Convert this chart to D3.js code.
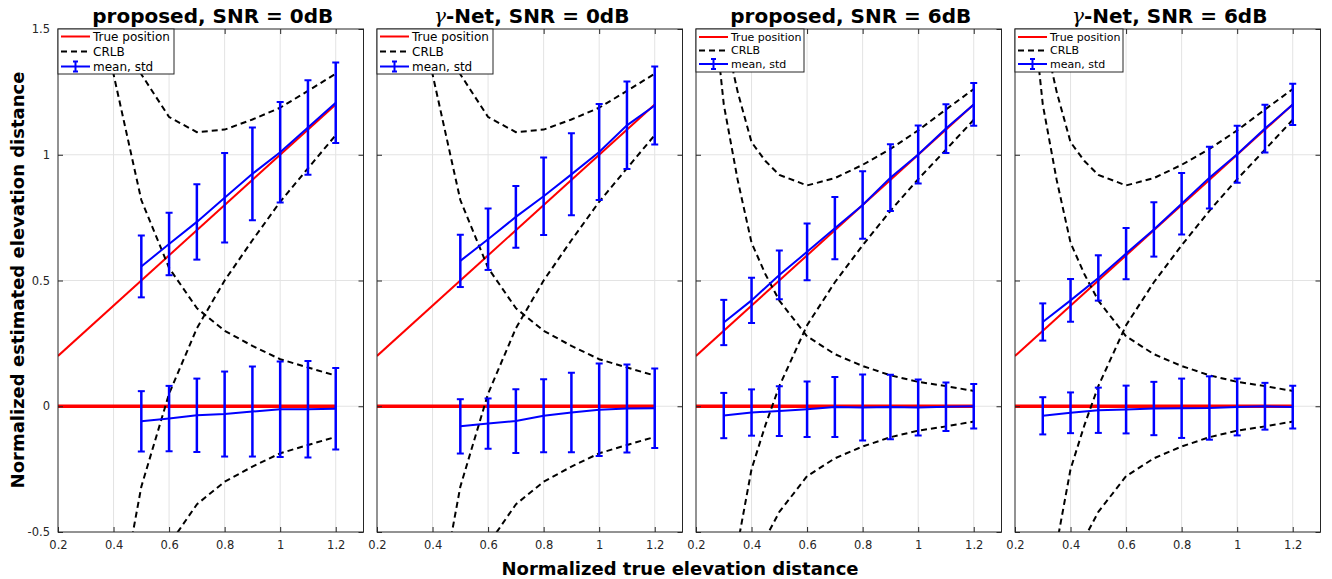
<!DOCTYPE html>
<html>
<head>
<meta charset="utf-8">
<script src="https://cdn.jsdelivr.net/npm/d3@7"></script>
<style>
  body { margin: 0; background: #fff; }
  svg { font-family: "DejaVu Sans", sans-serif; }
</style>
</head>
<body>
<svg id="chart" width="1332" height="579"></svg>
<script>
// --- données ---
const panelTitles = ["proposed, SNR = 0dB", "γ-Net, SNR = 0dB", "proposed, SNR = 6dB", "γ-Net, SNR = 6dB"];
const xTicks = [0.2, 0.4, 0.6, 0.8, 1, 1.2];
const yTicks = [-0.5, 0, 0.5, 1, 1.5];
const truePosX = [0.2, 1.2];

const pts0dB = [0.5, 0.6, 0.7, 0.8, 0.9, 1.0, 1.1, 1.2];
const pts6dB = [0.3, 0.4, 0.5, 0.6, 0.7, 0.8, 0.9, 1.0, 1.1, 1.2];

// CRLB (écart-type) en fonction de la distance vraie
const crlbX0dB = [0.3, 0.4, 0.5, 0.6, 0.7, 0.8, 0.9, 1.0, 1.1, 1.2];
const crlb0dB  = [2.2, 1.32, 0.82, 0.55, 0.39, 0.30, 0.24, 0.187, 0.154, 0.122];
const crlbX6dB = [0.2, 0.3, 0.35, 0.4, 0.45, 0.5, 0.6, 0.7, 0.8, 0.9, 1.0, 1.1, 1.2];
const crlb6dB  = [2.25, 1.2, 0.9, 0.65, 0.525, 0.42, 0.278, 0.207, 0.16, 0.123, 0.097, 0.08, 0.061];

// proposed 0dB
const prop0TopMean = [0.556, 0.645, 0.733, 0.829, 0.924, 1.01, 1.108, 1.207];
const prop0TopStd  = [0.123, 0.124, 0.15, 0.178, 0.184, 0.2, 0.188, 0.16];
const prop0BotMean = [-0.06, -0.049, -0.036, -0.031, -0.021, -0.012, -0.012, -0.01];
const prop0BotStd  = [0.12, 0.13, 0.146, 0.169, 0.179, 0.19, 0.192, 0.162];
// gamma-Net 0dB
const gnet0TopMean = [0.578, 0.664, 0.753, 0.835, 0.922, 1.011, 1.117, 1.196];
const gnet0TopStd  = [0.104, 0.122, 0.123, 0.154, 0.163, 0.191, 0.174, 0.155];
const gnet0BotMean = [-0.08, -0.069, -0.059, -0.038, -0.025, -0.014, -0.009, -0.008];
const gnet0BotStd  = [0.108, 0.1, 0.127, 0.145, 0.158, 0.184, 0.175, 0.158];
// proposed 6dB
const prop6TopMean = [0.333, 0.421, 0.522, 0.614, 0.708, 0.8, 0.909, 1.001, 1.104, 1.2];
const prop6TopStd  = [0.09, 0.09, 0.097, 0.113, 0.124, 0.134, 0.133, 0.115, 0.097, 0.085];
const prop6BotMean = [-0.037, -0.025, -0.019, -0.012, -0.003, -0.005, -0.003, -0.005, -0.002, 0.0];
const prop6BotStd  = [0.09, 0.092, 0.099, 0.11, 0.119, 0.131, 0.128, 0.111, 0.096, 0.088];
// gamma-Net 6dB
const gnet6TopMean = [0.335, 0.421, 0.51, 0.607, 0.703, 0.805, 0.909, 1.002, 1.104, 1.2];
const gnet6TopStd  = [0.074, 0.085, 0.09, 0.102, 0.108, 0.122, 0.123, 0.113, 0.095, 0.082];
const gnet6BotMean = [-0.038, -0.026, -0.016, -0.013, -0.009, -0.008, -0.007, -0.003, 0.0, -0.003];
const gnet6BotStd  = [0.074, 0.081, 0.09, 0.095, 0.106, 0.118, 0.126, 0.113, 0.093, 0.085];

const panels = [
  { x: pts0dB, cx: crlbX0dB, crlb: crlb0dB, top: [prop0TopMean, prop0TopStd], bot: [prop0BotMean, prop0BotStd], legFont: 12, legW: 116, legH: 45 },
  { x: pts0dB, cx: crlbX0dB, crlb: crlb0dB, top: [gnet0TopMean, gnet0TopStd], bot: [gnet0BotMean, gnet0BotStd], legFont: 12, legW: 116, legH: 45 },
  { x: pts6dB, cx: crlbX6dB, crlb: crlb6dB, top: [prop6TopMean, prop6TopStd], bot: [prop6BotMean, prop6BotStd], legFont: 11, legW: 108, legH: 43 },
  { x: pts6dB, cx: crlbX6dB, crlb: crlb6dB, top: [gnet6TopMean, gnet6TopStd], bot: [gnet6BotMean, gnet6BotStd], legFont: 11, legW: 108, legH: 43 }
];

// --- mise en page ---
const svg = d3.select('#chart');
const axLeft = [58, 377, 696, 1015];
const axW = 305.5;
const axTop = 29, axBottom = 532;
const axisColor = '#262626';
const gridColor = '#e3e3e3';

const fmt = d => (Math.round(d * 10) / 10).toString();

panels.forEach((p, i) => {
  const L = axLeft[i];
  const x = d3.scaleLinear().domain([0.2, 1.3]).range([L, L + axW]);
  const y = d3.scaleLinear().domain([-0.5, 1.5]).range([axBottom, axTop]);
  const g = svg.append('g');

  g.append('clipPath').attr('id', 'clip' + i)
    .append('rect').attr('x', L).attr('y', axTop).attr('width', axW).attr('height', axBottom - axTop);

  // fond
  g.append('rect').attr('x', L).attr('y', axTop).attr('width', axW).attr('height', axBottom - axTop)
    .attr('fill', '#fff');

  // grille
  g.selectAll('.gx').data(xTicks.filter(t => t > 0.2)).enter().append('line')
    .attr('x1', d => x(d)).attr('x2', d => x(d)).attr('y1', axTop).attr('y2', axBottom)
    .attr('stroke', gridColor).attr('stroke-width', 1);
  g.selectAll('.gy').data(yTicks.filter(t => t > -0.5 && t < 1.5)).enter().append('line')
    .attr('y1', d => y(d)).attr('y2', d => y(d)).attr('x1', L).attr('x2', L + axW)
    .attr('stroke', gridColor).attr('stroke-width', 1);

  const plot = g.append('g').attr('clip-path', `url(#clip${i})`);

  // position vraie
  plot.append('line')
    .attr('x1', x(truePosX[0])).attr('y1', y(truePosX[0]))
    .attr('x2', x(truePosX[1])).attr('y2', y(truePosX[1]))
    .attr('stroke', '#ff0000').attr('stroke-width', 2);
  plot.append('line')
    .attr('x1', x(truePosX[0])).attr('y1', y(0))
    .attr('x2', x(truePosX[1])).attr('y2', y(0))
    .attr('stroke', '#ff0000').attr('stroke-width', 3.5);

  // CRLB
  const line = d3.line().x(d => x(d[0])).y(d => y(d[1]));
  const crlbCurves = [
    p.cx.map((xv, k) => [xv, xv + p.crlb[k]]),
    p.cx.map((xv, k) => [xv, xv - p.crlb[k]]),
    p.cx.map((xv, k) => [xv, p.crlb[k]]),
    p.cx.map((xv, k) => [xv, -p.crlb[k]])
  ];
  crlbCurves.forEach(c => {
    plot.append('path').attr('d', line(c)).attr('fill', 'none')
      .attr('stroke', '#000').attr('stroke-width', 2).attr('stroke-dasharray', '6,4');
  });

  // moyenne et écart-type
  [p.top, p.bot].forEach(([mean, std]) => {
    const pts = p.x.map((xv, k) => [xv, mean[k]]);
    plot.append('path').attr('d', line(pts)).attr('fill', 'none')
      .attr('stroke', '#0000ff').attr('stroke-width', 2);
    const eb = plot.append('g').attr('stroke', '#0000ff').attr('stroke-width', 2.5);
    p.x.forEach((xv, k) => {
      const xp = x(xv), y1 = y(mean[k] + std[k]), y2 = y(mean[k] - std[k]);
      eb.append('line').attr('x1', xp).attr('x2', xp).attr('y1', y1).attr('y2', y2);
      eb.append('line').attr('x1', xp - 3.5).attr('x2', xp + 3.5).attr('y1', y1).attr('y2', y1).attr('stroke-width', 2);
      eb.append('line').attr('x1', xp - 3.5).attr('x2', xp + 3.5).attr('y1', y2).attr('y2', y2).attr('stroke-width', 2);
    });
  });

  // axes
  const xAxis = d3.axisBottom(x).tickValues(xTicks).tickFormat(fmt).tickSizeInner(-5).tickSizeOuter(0).tickPadding(9);
  const gx = g.append('g').attr('transform', `translate(0,${axBottom})`).call(xAxis);
  const gxTop = g.append('g').attr('transform', `translate(0,${axTop})`)
    .call(d3.axisTop(x).tickValues(xTicks).tickFormat('').tickSizeInner(-5).tickSizeOuter(0));
  const yAxis = d3.axisLeft(y).tickValues(yTicks).tickFormat(i === 0 ? fmt : '').tickSizeInner(-5).tickSizeOuter(0).tickPadding(8);
  const gy = g.append('g').attr('transform', `translate(${L},0)`).call(yAxis);
  const gyR = g.append('g').attr('transform', `translate(${L + axW},0)`)
    .call(d3.axisRight(y).tickValues(yTicks).tickFormat('').tickSizeInner(-5).tickSizeOuter(0));
  [gx, gxTop, gy, gyR].forEach(a => {
    a.select('.domain').remove();
    a.selectAll('line').attr('stroke', axisColor).attr('stroke-width', 1);
    a.selectAll('text').attr('fill', axisColor).style('font-size', '11.5px').style('font-family', '"DejaVu Sans", sans-serif');
  });
  g.append('rect').attr('x', L).attr('y', axTop).attr('width', axW).attr('height', axBottom - axTop)
    .attr('fill', 'none').attr('stroke', axisColor).attr('stroke-width', 1);

  // titre
  const t = svg.append('text').attr('x', L + axW / 2 + 2).attr('y', 23).attr('text-anchor', 'middle')
    .style('font-size', '20px').style('font-weight', 'bold').attr('fill', '#000');
  if (panelTitles[i].startsWith('γ')) {
    t.append('tspan').text('γ').style('font-family', '"DejaVu Serif", serif').style('font-style', 'italic').style('font-weight', 'normal');
    t.append('tspan').text(panelTitles[i].slice(1));
  } else {
    t.text(panelTitles[i]);
  }

  // légende
  const lg = g.append('g').attr('transform', `translate(${L},${axTop})`);
  lg.append('rect').attr('width', p.legW).attr('height', p.legH).attr('fill', '#fff')
    .attr('stroke', axisColor).attr('stroke-width', 1);
  const rowY = p.legFont === 12 ? [7.5, 22.5, 37.5] : [8, 21.5, 35];
  const labels = ['True position', 'CRLB', 'mean, std'];
  labels.forEach((lab, k) => {
    const yy = rowY[k];
    if (k === 0) {
      lg.append('line').attr('x1', 3).attr('x2', 32).attr('y1', yy).attr('y2', yy).attr('stroke', '#ff0000').attr('stroke-width', 2);
    } else if (k === 1) {
      lg.append('line').attr('x1', 3).attr('x2', 32).attr('y1', yy).attr('y2', yy).attr('stroke', '#000').attr('stroke-width', 2).attr('stroke-dasharray', '6,4');
    } else {
      lg.append('line').attr('x1', 3).attr('x2', 32).attr('y1', yy).attr('y2', yy).attr('stroke', '#0000ff').attr('stroke-width', 2);
      lg.append('line').attr('x1', 17.5).attr('x2', 17.5).attr('y1', yy - 5).attr('y2', yy + 5).attr('stroke', '#0000ff').attr('stroke-width', 2);
      lg.append('line').attr('x1', 15).attr('x2', 20).attr('y1', yy - 5).attr('y2', yy - 5).attr('stroke', '#0000ff').attr('stroke-width', 2);
      lg.append('line').attr('x1', 15).attr('x2', 20).attr('y1', yy + 5).attr('y2', yy + 5).attr('stroke', '#0000ff').attr('stroke-width', 2);
    }
    lg.append('text').attr('x', 35).attr('y', yy).attr('dy', '0.35em')
      .style('font-size', p.legFont + 'px').attr('fill', '#000').text(lab);
  });
});

// titres des axes
svg.append('text').attr('x', 680).attr('y', 575).attr('text-anchor', 'middle')
  .style('font-size', '18px').style('font-weight', 'bold').attr('fill', '#000')
  .text('Normalized true elevation distance');
svg.append('text').attr('transform', 'translate(24,280) rotate(-90)').attr('text-anchor', 'middle')
  .style('font-size', '18px').style('font-weight', 'bold').attr('fill', '#000')
  .text('Normalized estimated elevation distance');
</script>
</body>
</html>
